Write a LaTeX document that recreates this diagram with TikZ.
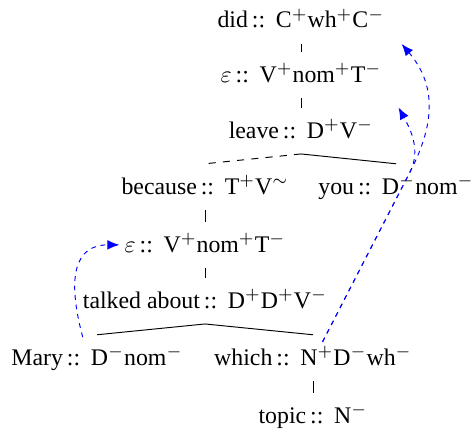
\documentclass[tikz,border=0pt]{standalone}
\usepackage{fontspec}
\setmainfont{Liberation Serif}
\usetikzlibrary{arrows.meta}
\newcommand{\lexitem}[2]{\rmfamily #1\,::\hspace{4.5pt}#2}
\tikzset{
  lex/.style={inner xsep=2pt, inner ysep=4.5pt, text height=8pt, text depth=2pt, anchor=base, font=\rmfamily},
  move/.style={blue, dash pattern=on 2pt off 2pt, -{Latex[length=5pt,width=4pt]}},
}
\begin{document}
\begin{tikzpicture}[x=0.42pt, y=-0.42pt]
\useasboundingbox (0,0) rectangle (475,432);
% lexical items
\node[lex] (did) at (301,28) {\lexitem{did}{C$^{+}$wh$^{+}$C$^{-}$}};
\node[lex] (eps1) at (301,82) {\lexitem{$\varepsilon$}{V$^{+}$nom$^{+}$T$^{-}$}};
\node[lex] (leave) at (301,138) {\lexitem{leave}{D$^{+}$V$^{-}$}};
\node[lex] (because) at (205,194) {\lexitem{because}{T$^{+}$V$^{\sim}$}};
\node[lex] (you) at (396,194) {\lexitem{you}{D$^{-}$nom$^{-}$}};
\node[lex] (eps2) at (205,252) {\lexitem{$\varepsilon$}{V$^{+}$nom$^{+}$T$^{-}$}};
\node[lex] (talked) at (205,308) {\lexitem{talked about}{D$^{+}$D$^{+}$V$^{-}$}};
\node[lex] (Mary) at (97,365) {\lexitem{Mary}{D$^{-}$nom$^{-}$}};
\node[lex] (which) at (313,365) {\lexitem{which}{N$^{+}$D$^{-}$wh$^{-}$}};
\node[lex] (topic) at (313,423) {\lexitem{topic}{N$^{-}$}};
% tree
\draw (did) -- (eps1);
\draw (eps1) -- (leave);
\draw (leave.south) -- (you.north);
\draw[dashed] (leave.south) -- (because.north);
\draw (because) -- (eps2);
\draw (eps2) -- (talked);
\draw (talked.south) -- (Mary.north);
\draw (talked.south) -- (which.north);
\draw (which) -- (topic);
% movement
\coordinate (split) at (410,172);
\draw[move] ([shift={(-6pt,-1pt)}]Mary.north) .. controls +(-16,-60) and +(-45,0) .. (eps2.west);
\draw[move] ([shift={(4pt,-3pt)}]which.north) -- (split) .. controls +(26,-50) and +(34,40) .. ([xshift=5pt]did.south east);
\draw[move] ([shift={(4pt,-3pt)}]which.north) -- (split) .. controls +(11,-22) and +(12,22) .. ([shift={(5pt,-4pt)}]eps1.south east);
\end{tikzpicture}
\end{document}
